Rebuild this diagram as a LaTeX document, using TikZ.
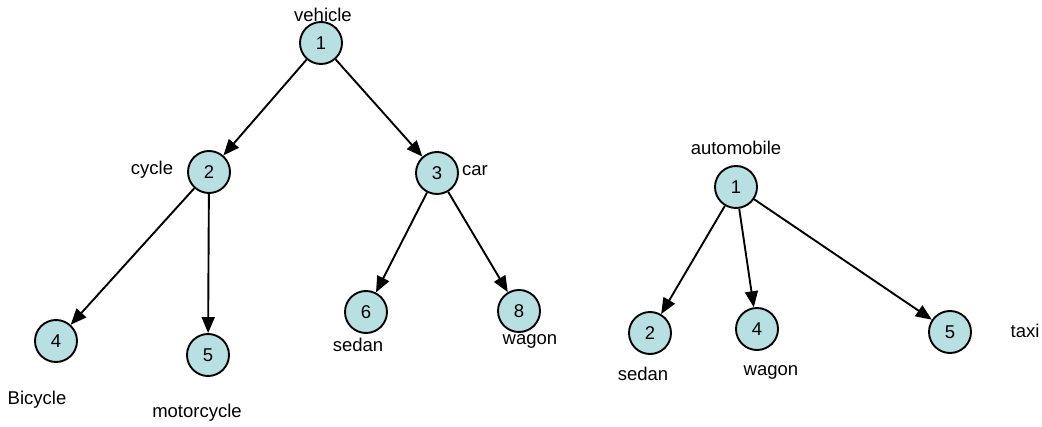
\documentclass[tikz,border=0pt]{standalone}
\usepackage{fontspec}
\setmainfont{Liberation Sans}
\usetikzlibrary{arrows.meta}
\definecolor{nodefill}{RGB}{184,224,227}
\tikzset{
  vnode/.style={circle, draw=black, line width=1.9pt, fill=nodefill,
    minimum size=42pt, inner sep=0pt, font=\fontsize{18.5}{20}\selectfont},
  lbl/.style={font=\fontsize{18.5}{20}\selectfont, inner sep=0pt},
  edge/.style={line width=1.9pt, -{Triangle[length=16pt,width=13pt]}}
}
\begin{document}
\begin{tikzpicture}[x=1pt, y=-1pt]
  \useasboundingbox (0,0) rectangle (1042,427);
  % left tree: vehicle
  \node[vnode] (v1) at (321,43) {1};
  \node[vnode] (v2) at (209,172) {2};
  \node[vnode] (v3) at (437,173) {3};
  \node[vnode] (v4) at (56,341) {4};
  \node[vnode] (v5) at (208,355) {5};
  \node[vnode] (v6) at (366,312) {6};
  \node[vnode] (v8) at (519,311) {8};
  \node[lbl] (lv1) at (323,15) {vehicle};
  \node[lbl] (lv2) at (152,170) {cycle};
  \node[lbl] (lv3) at (475,171) {car};
  \node[lbl] (lv4) at (37,400) {Bicycle};
  \node[lbl] (lv5) at (197,413) {motorcycle};
  \node[lbl] (lv6) at (358,345) {sedan};
  \node[lbl] (lv8) at (530,341) {wagon};
  \draw[edge] (v1) -- (v2);
  \draw[edge] (v1) -- (v3);
  \draw[edge] (v2) -- (v4);
  \draw[edge] (v2) -- (v5);
  \draw[edge] (v3) -- (v6);
  \draw[edge] (v3) -- (v8);
  % right tree: automobile
  \node[vnode] (a1) at (736,187) {1};
  \node[vnode] (a2) at (650,333) {2};
  \node[vnode] (a4) at (757,329) {4};
  \node[vnode] (a5) at (950,332) {5};
  \node[lbl] (la1) at (736,148) {automobile};
  \node[lbl] (la2) at (643,374) {sedan};
  \node[lbl] (la4) at (771,372) {wagon};
  \node[lbl] (la5) at (1025,331) {taxi};
  \draw[edge] (a1) -- (a2);
  \draw[edge] (a1) -- (a4);
  \draw[edge] (a1) -- (a5);
\end{tikzpicture}
\end{document}
